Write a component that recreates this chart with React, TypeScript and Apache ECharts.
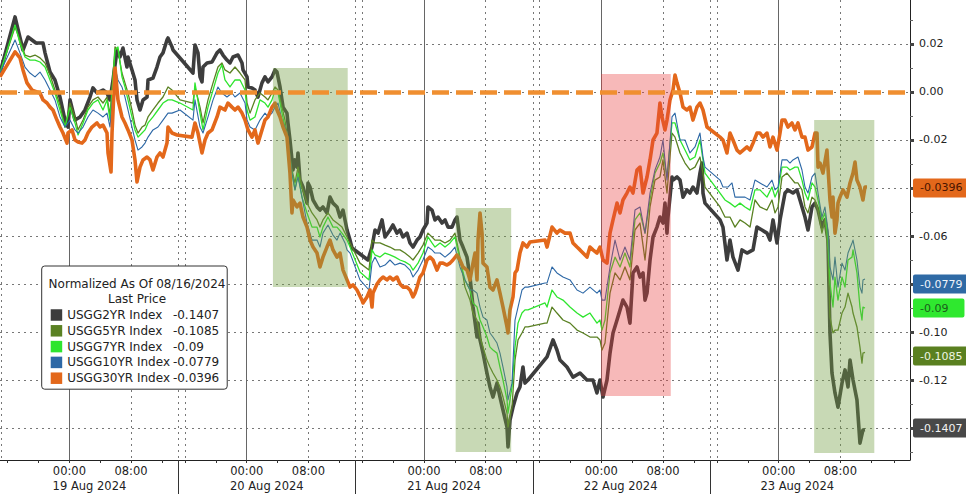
import React, { useEffect, useRef } from "react";
import * as echarts from "echarts";

// Hours of compressed trading-session time (5 sessions of 23h), value = normalized yield change
const seriesNames = ["USGG2YR Index", "USGG5YR Index", "USGG7YR Index", "USGG10YR Index", "USGG30YR Index"];

const us2y = [
  [0, 0.0079], [1.95, 0.0313], [2.98, 0.0175], [3.63, 0.0229], [4.67, 0.0204], [5.58, 0.0204], [5.84, 0.0163], [6.49, 0.0083], [7.13, 0.005], [7.78, -0.0021], [8.43, -0.0117], [8.82, -0.0146], [9.08, -0.0033], [9.73, -0.0117], [10.38, -0.0104], [11.02, -0.0075], [11.67, -0.0021], [12.06, 0.0017], [12.58, -0.0004], [13.36, 0.0008], [13.88, -0.0004], [14.27, -0.0033], [14.66, 0.005], [15.18, 0.0175], [15.56, 0.0146], [15.95, 0.0183], [16.47, 0.0104], [16.6, 0.0146], [17.12, 0.0092], [17.51, 0.005], [17.77, -0.0033], [18.16, -0.0075], [18.55, -0.0033], [19.07, -0.0021], [19.2, 0.005], [19.84, 0.0058], [20.36, 0.0104], [20.75, 0.0146], [21.14, 0.0163], [21.66, 0.0217], [21.79, 0.0225], [22.31, 0.0188], [22.44, 0.0175],
  [25.03, 0.0079], [25.29, 0.0196], [25.68, 0.0163], [25.94, 0.0063], [26.2, 0.0042], [26.33, 0.0104], [26.85, 0.0121], [27.5, 0.0125], [28.15, 0.0163], [28.53, 0.0175], [28.92, 0.0154], [29.44, 0.0133], [29.83, 0.0121], [30.22, 0.0146], [30.87, 0.0154], [31.39, 0.0121], [31.52, 0.0092], [32.04, 0.0063], [32.17, 0.0021], [32.68, 0.0017], [33.07, 0.0008], [33.46, -0.0021], [33.98, 0.0038], [34.37, 0.0063], [34.76, 0.0042], [35.28, 0.0063], [35.67, 0.0092], [35.93, 0.0083], [36.32, 0.0021], [36.71, -0.0063], [37.22, -0.0088], [37.35, -0.0129], [37.61, -0.02], [37.87, -0.0283], [38, -0.0325], [38.26, -0.0283], [38.52, -0.0313], [38.65, -0.0254], [38.91, -0.0367], [39.3, -0.0396], [39.82, -0.0463], [39.95, -0.0379], [40.21, -0.0396], [40.6, -0.045], [41.12, -0.0479], [41.5, -0.0492], [41.89, -0.0479], [42.41, -0.0504], [42.8, -0.0438], [43.19, -0.0463], [43.71, -0.0479], [44.1, -0.0521], [44.49, -0.0492], [45.01, -0.0575], [45.4, -0.0617], [45.66, -0.065],
  [47.73, -0.07], [48.25, -0.0646], [48.64, -0.0575], [49.03, -0.0588], [49.55, -0.0533], [49.94, -0.0604], [50.58, -0.0575], [50.97, -0.0554], [51.49, -0.0588], [51.88, -0.0575], [52.27, -0.0604], [52.79, -0.0588], [53.18, -0.0629], [53.57, -0.0646], [54.09, -0.0617], [54.47, -0.0604], [54.86, -0.0575], [55.38, -0.0546], [55.51, -0.0479], [56.03, -0.0492], [56.42, -0.0533], [56.81, -0.0521], [57.33, -0.0546], [57.72, -0.0533], [58.11, -0.0563], [58.63, -0.0563], [59.01, -0.0533], [59.27, -0.0521], [59.66, -0.0617], [60.05, -0.0646], [60.57, -0.0688], [60.96, -0.0771], [61.35, -0.0896], [61.87, -0.1021], [62, -0.0963], [62.26, -0.1033], [62.65, -0.1088], [63.16, -0.1171], [63.55, -0.1229], [63.94, -0.1271], [64.46, -0.1213], [64.85, -0.1271], [65.24, -0.1325], [65.76, -0.1396], [65.89, -0.1479], [66.15, -0.1367], [66.54, -0.1313], [67.06, -0.1254], [67.44, -0.1229], [67.83, -0.1146], [68.09, -0.1213], [68.48, -0.12],
  [70.95, -0.1104], [71.73, -0.1033], [72.24, -0.1075], [72.63, -0.1117], [73.54, -0.1146], [74.32, -0.1188], [75.23, -0.1171], [76.13, -0.12], [76.91, -0.12], [77.43, -0.1254], [77.82, -0.12], [78.21, -0.1271], [78.73, -0.12], [79.12, -0.1088], [79.51, -0.1004], [80.03, -0.095], [80.42, -0.0908], [80.8, -0.0867], [81.32, -0.0896], [81.71, -0.0963], [82.1, -0.0754], [82.62, -0.0729], [83.01, -0.0771], [83.4, -0.0754], [83.66, -0.0867], [83.92, -0.0838], [84.31, -0.07], [84.7, -0.0604], [85.21, -0.0563], [85.6, -0.0521], [85.99, -0.0546], [86.25, -0.0463], [86.51, -0.0588], [86.64, -0.0521], [87.16, -0.0354], [87.29, -0.0367], [87.81, -0.0354], [88.2, -0.0367], [88.59, -0.0438], [89.1, -0.0408], [89.49, -0.0421], [89.88, -0.0396], [90.4, -0.0421], [90.79, -0.0338], [91.05, -0.0296], [91.18, -0.0421], [91.44, -0.0463],
  [93.39, -0.0533], [93.77, -0.0563], [94.29, -0.07], [94.68, -0.0617], [95.07, -0.0688], [95.72, -0.0742], [96.24, -0.0658], [96.89, -0.0671], [97.67, -0.0658], [98.18, -0.0563], [98.83, -0.0575], [99.48, -0.0588], [99.87, -0.0617], [100.26, -0.0533], [100.78, -0.0629], [101.17, -0.0533], [101.82, -0.0421], [102.2, -0.0408], [102.85, -0.0421], [103.37, -0.0408], [103.76, -0.045], [104.41, -0.0521], [104.8, -0.0575], [105.32, -0.0479], [105.71, -0.0463], [106.1, -0.0492], [106.61, -0.0563], [107, -0.0533], [107.39, -0.0617], [107.65, -0.1004], [107.91, -0.1171], [108.3, -0.1254], [108.69, -0.1313], [109.21, -0.1213], [109.6, -0.1158], [109.99, -0.1229], [110.25, -0.1117], [110.64, -0.12], [111.15, -0.1283], [111.54, -0.1463], [111.93, -0.1408], [112.19, -0.1407],
];

const us5y = [
  [0, 0.0079], [1.95, 0.0271], [2.59, 0.0217], [3.24, 0.0154], [3.89, 0.0146], [4.54, 0.0154], [5.19, 0.0142], [5.84, 0.0121], [6.49, 0.0071], [7.13, 0.0008], [7.78, -0.0054], [8.43, -0.0146], [9.08, -0.0046], [9.73, -0.0104], [10.12, -0.0158], [10.77, -0.0117], [11.41, -0.0063], [12.06, -0.0033], [12.71, -0.0021], [13.36, -0.0046], [13.88, -0.0021], [14.27, -0.0096], [14.92, 0.0188], [15.3, 0.0175], [15.82, 0.0079], [16.21, 0.0038], [16.6, -0.0004], [17.12, -0.0075], [17.51, -0.0138], [17.9, -0.0171], [18.42, -0.0146], [18.81, -0.0138], [19.2, -0.0104], [19.84, -0.0075], [20.49, -0.0046], [21.14, -0.0021], [21.79, 0.0021], [22.31, 0.0008], [23.35, -0.0033],
  [25.03, -0.0046], [25.29, 0.0021], [25.94, -0.0063], [26.33, -0.0129], [26.98, -0.0033], [27.63, 0.0038], [28.27, 0.0104], [28.79, 0.0121], [29.18, 0.0092], [29.83, 0.0079], [30.48, 0.0104], [31.13, 0.0079], [31.78, 0.005], [32.04, -0.0046], [32.43, -0.0088], [33.07, -0.0033], [33.72, -0.0004], [34.37, -0.0021], [34.76, -0.0033], [35.28, -0.0004], [35.67, 0.0021], [36.06, 0.0008], [36.58, -0.0063], [36.96, -0.0117], [37.35, -0.02], [37.87, -0.0325], [38.26, -0.0379], [38.65, -0.0313], [39.17, -0.0396], [39.82, -0.0463], [40.47, -0.0504], [41.12, -0.0533], [41.5, -0.0563], [41.89, -0.0533], [42.54, -0.0504], [43.19, -0.0533], [43.71, -0.0546], [44.36, -0.0563], [45.01, -0.0604], [45.4, -0.0629], [46.69, -0.0713],
  [47.86, -0.0742], [48.25, -0.0617], [48.64, -0.0629], [49.29, -0.0629], [49.94, -0.0638], [50.58, -0.0646], [51.23, -0.0658], [51.88, -0.0658], [52.53, -0.0671], [53.18, -0.0688], [53.57, -0.07], [54.22, -0.0671], [54.86, -0.0638], [55.51, -0.0588], [56.03, -0.0604], [56.42, -0.0617], [57.07, -0.0617], [57.72, -0.0629], [58.37, -0.0617], [59.01, -0.0588], [59.66, -0.0688], [60.31, -0.0813], [60.96, -0.0867], [61.35, -0.0921], [61.87, -0.095], [62.26, -0.1021], [62.65, -0.1063], [63.16, -0.1117], [63.55, -0.1146], [63.94, -0.1171], [64.46, -0.12], [64.85, -0.1229], [65.24, -0.1271], [65.76, -0.1338], [65.89, -0.1396], [66.41, -0.1313], [66.8, -0.1117], [67.19, -0.1033], [67.7, -0.1004], [68.09, -0.0979], [68.48, -0.0979],
  [70.69, -0.0963], [70.95, -0.0963], [71.6, -0.0896], [72.24, -0.0921], [73.02, -0.095], [73.93, -0.0963], [74.84, -0.0992], [75.62, -0.1004], [76.52, -0.1021], [77.43, -0.1021], [77.82, -0.1033], [78.08, -0.1075], [78.47, -0.1046], [79.12, -0.0838], [79.77, -0.0754], [80.42, -0.0783], [81.06, -0.0729], [81.71, -0.0783], [82.36, -0.0575], [83.01, -0.0546], [83.66, -0.07], [84.31, -0.0479], [84.95, -0.0367], [85.6, -0.0354], [85.99, -0.0283], [86.51, -0.0421], [87.16, -0.0171], [87.55, -0.0188], [88.2, -0.0254], [88.85, -0.0296], [89.49, -0.0325], [90.14, -0.0313], [90.79, -0.0271], [91.18, -0.0338], [91.44, -0.0396],
  [93.39, -0.0479], [94.03, -0.0521], [94.68, -0.0521], [95.33, -0.0563], [95.98, -0.0533], [96.63, -0.0546], [97.28, -0.0563], [97.92, -0.045], [98.57, -0.0479], [99.48, -0.0492], [100.13, -0.045], [100.52, -0.0504], [100.91, -0.0479], [101.43, -0.0354], [102.07, -0.0338], [102.46, -0.0354], [103.11, -0.0379], [103.5, -0.0379], [104.02, -0.0408], [104.41, -0.0479], [104.8, -0.0504], [105.32, -0.0438], [105.71, -0.045], [106.1, -0.0492], [106.61, -0.0588], [107, -0.0533], [107.39, -0.0658], [107.65, -0.0938], [108.04, -0.1004], [108.3, -0.0992], [108.69, -0.0992], [109.21, -0.0921], [109.6, -0.0896], [109.99, -0.0838], [110.51, -0.0896], [110.64, -0.0921], [111.15, -0.0979], [111.54, -0.1063], [111.8, -0.113], [111.93, -0.1088], [112.19, -0.1085],
];

const us7y = [
  [0, 0.0079], [1.95, 0.0279], [2.59, 0.0204], [3.24, 0.0146], [3.89, 0.0133], [4.54, 0.0133], [5.19, 0.0125], [5.84, 0.0104], [6.49, 0.005], [7.13, -0.0004], [7.78, -0.0075], [8.43, -0.0146], [9.08, -0.0063], [9.73, -0.0129], [10.12, -0.0179], [10.77, -0.0129], [11.41, -0.0075], [12.06, -0.0046], [12.71, -0.0033], [13.36, -0.0075], [13.88, -0.0033], [14.27, -0.0117], [14.92, 0.0175], [15.3, 0.0188], [15.82, 0.0063], [16.21, 0.0021], [16.6, -0.0033], [17.12, -0.0104], [17.51, -0.0158], [17.9, -0.0188], [18.42, -0.0171], [18.81, -0.0158], [19.2, -0.0129], [19.84, -0.0104], [20.49, -0.0075], [21.14, -0.0046], [21.79, -0.0033], [22.31, -0.0033], [23.35, -0.0046],
  [25.03, -0.0075], [25.29, 0.0038], [25.94, -0.0088], [26.33, -0.0158], [26.98, -0.0063], [27.63, 0.0008], [28.27, 0.0079], [28.79, 0.0113], [29.18, 0.005], [29.83, 0.0021], [30.48, 0.005], [31.13, 0.005], [31.78, 0.0008], [32.04, -0.0075], [32.43, -0.0117], [33.07, -0.0104], [33.72, -0.0033], [34.37, -0.0046], [34.76, -0.0063], [35.28, -0.0033], [35.67, 0.0008], [36.06, -0.0004], [36.58, -0.0088], [36.96, -0.0146], [37.35, -0.0229], [37.87, -0.0338], [38.26, -0.0408], [38.65, -0.0338], [39.17, -0.0438], [39.82, -0.0504], [40.47, -0.0563], [41.12, -0.0563], [41.5, -0.0604], [41.89, -0.0563], [42.54, -0.0521], [43.19, -0.0563], [43.71, -0.0563], [44.36, -0.0588], [45.01, -0.0617], [45.4, -0.0646], [46.69, -0.075],
  [47.86, -0.0783], [48.25, -0.0658], [48.64, -0.0679], [49.29, -0.0688], [49.94, -0.0671], [50.58, -0.0679], [51.23, -0.0688], [51.88, -0.07], [52.53, -0.0708], [53.18, -0.0721], [53.57, -0.0742], [54.22, -0.0713], [54.86, -0.0671], [55.51, -0.0604], [56.03, -0.0629], [56.42, -0.0646], [57.07, -0.0629], [57.72, -0.0646], [58.37, -0.0629], [59.01, -0.0604], [59.66, -0.07], [60.31, -0.0783], [60.96, -0.0825], [61.35, -0.0879], [61.87, -0.0896], [62.26, -0.095], [62.65, -0.0979], [63.16, -0.1021], [63.55, -0.1063], [63.94, -0.1075], [64.46, -0.1088], [64.85, -0.1146], [65.24, -0.12], [65.76, -0.1283], [65.89, -0.1338], [66.41, -0.1229], [66.8, -0.1063], [67.19, -0.0963], [67.7, -0.0921], [68.09, -0.0908], [68.48, -0.0908],
  [70.69, -0.0879], [70.95, -0.0896], [71.6, -0.0825], [72.24, -0.0854], [73.02, -0.0867], [73.93, -0.0896], [74.84, -0.0921], [75.62, -0.0938], [76.52, -0.0921], [77.43, -0.0963], [77.82, -0.095], [78.08, -0.0992], [78.47, -0.095], [79.12, -0.0754], [79.77, -0.0688], [80.42, -0.0729], [81.06, -0.0671], [81.71, -0.0729], [82.36, -0.0533], [83.01, -0.0504], [83.66, -0.0588], [84.31, -0.045], [84.95, -0.0338], [85.6, -0.0296], [85.99, -0.0254], [86.51, -0.0354], [87.16, -0.0129], [87.55, -0.0129], [88.2, -0.02], [88.85, -0.0242], [89.49, -0.0283], [90.14, -0.0271], [90.79, -0.02], [91.18, -0.0283], [91.44, -0.0338],
  [93.39, -0.0421], [94.03, -0.045], [94.68, -0.0463], [95.33, -0.0479], [95.98, -0.0463], [96.63, -0.0479], [97.28, -0.0492], [97.92, -0.0408], [98.57, -0.0408], [99.48, -0.0438], [100.13, -0.0396], [100.52, -0.0438], [100.91, -0.0408], [101.43, -0.0313], [102.07, -0.0313], [102.46, -0.0325], [103.11, -0.0313], [103.5, -0.0313], [104.02, -0.0367], [104.41, -0.0421], [104.8, -0.045], [105.32, -0.0379], [105.71, -0.0396], [106.1, -0.045], [106.61, -0.0533], [107, -0.0504], [107.39, -0.0617], [107.65, -0.0796], [108.04, -0.0896], [108.3, -0.0771], [108.69, -0.0867], [109.21, -0.0771], [109.6, -0.0813], [109.99, -0.07], [110.51, -0.0688], [110.64, -0.0658], [111.15, -0.0754], [111.54, -0.0896], [111.8, -0.095], [111.93, -0.0896], [112.19, -0.09],
];

const us10y = [
  [0, 0.0079], [1.95, 0.0217], [2.59, 0.0163], [3.24, 0.0104], [3.89, 0.0079], [4.54, 0.0063], [5.19, 0.0083], [5.84, 0.005], [6.49, 0.0008], [7.13, -0.0033], [7.78, -0.0104], [8.43, -0.0146], [9.08, -0.0117], [9.73, -0.0158], [10.12, -0.0171], [10.77, -0.0146], [11.41, -0.0104], [12.06, -0.0075], [12.71, -0.0088], [13.36, -0.0104], [13.88, -0.0088], [14.27, -0.0146], [14.92, 0.0104], [15.3, 0.005], [15.82, 0.0021], [16.21, -0.0021], [16.6, -0.0075], [17.12, -0.0146], [17.51, -0.02], [17.9, -0.0242], [18.42, -0.0229], [18.81, -0.0213], [19.2, -0.0188], [19.84, -0.0158], [20.49, -0.0146], [21.14, -0.0117], [21.79, -0.0088], [22.31, -0.0088], [23.35, -0.0075],
  [25.03, -0.0117], [25.29, -0.0033], [25.94, -0.0146], [26.33, -0.0171], [26.98, -0.0104], [27.63, -0.0033], [28.27, 0.0021], [28.79, -0.0004], [29.44, -0.0021], [30.09, -0.0004], [30.48, -0.0021], [31.13, -0.0004], [31.78, -0.0046], [32.04, -0.0117], [32.43, -0.0146], [33.07, -0.0158], [33.72, -0.0117], [34.37, -0.0088], [34.76, -0.0104], [35.28, -0.0088], [35.67, -0.0063], [36.06, -0.0046], [36.58, -0.0117], [36.96, -0.0146], [37.35, -0.02], [37.87, -0.0338], [38.26, -0.0408], [38.65, -0.0354], [39.17, -0.0438], [39.82, -0.0546], [40.47, -0.0617], [41.12, -0.0617], [41.5, -0.0646], [41.89, -0.0588], [42.54, -0.0554], [43.19, -0.0596], [43.71, -0.0617], [44.1, -0.0588], [44.75, -0.0629], [45.01, -0.0658], [45.4, -0.0671], [46.69, -0.0783],
  [47.86, -0.0825], [48.25, -0.0713], [48.64, -0.0688], [49.29, -0.0729], [49.94, -0.0721], [50.58, -0.07], [51.23, -0.0721], [51.88, -0.0713], [52.53, -0.0721], [53.18, -0.0742], [53.57, -0.0771], [54.22, -0.0742], [54.86, -0.07], [55.51, -0.0646], [56.03, -0.0658], [56.42, -0.0671], [57.07, -0.0671], [57.72, -0.0688], [58.37, -0.0671], [59.01, -0.0646], [59.66, -0.0729], [60.31, -0.0783], [60.96, -0.0825], [61.35, -0.0825], [61.87, -0.0838], [62.26, -0.0896], [62.65, -0.0938], [63.16, -0.095], [63.55, -0.1004], [63.94, -0.1021], [64.46, -0.1046], [64.85, -0.1088], [65.24, -0.1146], [65.76, -0.1229], [65.89, -0.1283], [66.41, -0.1213], [66.8, -0.095], [67.19, -0.0896], [67.7, -0.0825], [68.09, -0.0813], [68.48, -0.0813],
  [70.69, -0.0796], [70.95, -0.0796], [71.6, -0.0729], [72.24, -0.0754], [73.02, -0.0771], [73.93, -0.0783], [74.84, -0.0825], [75.62, -0.0838], [76.52, -0.0813], [77.43, -0.0838], [77.82, -0.0825], [78.08, -0.0867], [78.47, -0.0867], [79.12, -0.0729], [79.77, -0.0617], [80.42, -0.07], [81.06, -0.0646], [81.71, -0.07], [82.36, -0.0492], [83.01, -0.0479], [83.66, -0.0588], [84.31, -0.0421], [84.95, -0.0325], [85.6, -0.0271], [85.99, -0.02], [86.51, -0.0367], [87.16, -0.0104], [87.55, -0.0088], [88.2, -0.02], [88.85, -0.02], [89.49, -0.0254], [90.14, -0.0229], [90.79, -0.0171], [91.18, -0.0271], [91.44, -0.0313],
  [93.39, -0.0367], [93.77, -0.0396], [94.42, -0.0396], [94.94, -0.0379], [95.33, -0.0438], [95.98, -0.0438], [96.63, -0.0438], [97.28, -0.045], [97.92, -0.0367], [98.57, -0.0379], [99.48, -0.0396], [100.13, -0.0367], [100.52, -0.0408], [100.91, -0.0396], [101.43, -0.0283], [102.07, -0.0283], [102.46, -0.0296], [102.85, -0.0283], [103.5, -0.0271], [104.02, -0.0325], [104.41, -0.0396], [104.8, -0.0421], [105.32, -0.0354], [105.71, -0.0338], [106.1, -0.0421], [106.61, -0.0521], [107, -0.0479], [107.39, -0.0575], [107.65, -0.0729], [108.04, -0.0783], [108.3, -0.0688], [108.69, -0.0813], [109.21, -0.0713], [109.6, -0.0742], [109.99, -0.0671], [110.51, -0.0629], [110.64, -0.0617], [111.15, -0.07], [111.54, -0.0813], [111.8, -0.0838], [111.93, -0.0783], [112.19, -0.0779],
];

const us30y = [
  [0, 0.0063], [1.95, 0.0167], [2.59, 0.0142], [2.98, 0.0092], [3.5, 0.0038], [4.15, 0.0008], [4.8, 0], [5.19, -0.0004], [5.58, -0.0033], [6.1, -0.0046], [6.49, -0.0063], [6.87, -0.0075], [7.39, -0.0117], [7.78, -0.0146], [8.17, -0.0171], [8.69, -0.0213], [8.82, -0.0171], [9.34, -0.0158], [9.73, -0.02], [10.12, -0.0208], [10.64, -0.0213], [11.02, -0.02], [11.41, -0.0171], [11.93, -0.0146], [12.58, -0.0129], [12.97, -0.0146], [13.36, -0.0138], [13.88, -0.0171], [14.01, -0.0254], [14.4, -0.0333], [14.53, -0.0171], [14.92, 0.01], [15.3, -0.0033], [15.82, -0.0104], [16.21, -0.0129], [16.6, -0.0158], [17.12, -0.02], [17.51, -0.0283], [17.77, -0.0375], [18.16, -0.0313], [18.55, -0.0283], [19.07, -0.0271], [19.46, -0.0283], [19.84, -0.0325], [20.36, -0.0271], [20.75, -0.0254], [21.14, -0.0271], [21.66, -0.0213], [21.79, -0.0146], [22.31, -0.0171], [22.96, -0.0179],
  [24.9, -0.0188], [25.29, -0.0129], [25.68, -0.0171], [26.2, -0.0254], [26.59, -0.02], [26.98, -0.0171], [27.5, -0.0158], [28.15, -0.0104], [28.53, -0.0063], [29.18, -0.0075], [29.57, -0.0046], [30.09, -0.0063], [30.48, -0.0075], [30.87, -0.0063], [31.39, -0.0088], [31.78, -0.0117], [32.17, -0.0158], [32.68, -0.0188], [33.07, -0.0158], [33.46, -0.0213], [33.98, -0.0158], [34.37, -0.0117], [34.76, -0.0104], [35.28, -0.0063], [35.67, -0.0046], [35.93, -0.0075], [36.32, -0.0104], [36.71, -0.0146], [37.22, -0.0188], [37.61, -0.0338], [37.87, -0.0504], [38, -0.045], [38.52, -0.0479], [38.91, -0.0463], [39.3, -0.0521], [39.82, -0.0563], [40.21, -0.0617], [40.6, -0.0646], [41.12, -0.0671], [41.5, -0.0729], [41.89, -0.0688], [42.41, -0.0646], [42.8, -0.0617], [43.19, -0.0658], [43.71, -0.0688], [44.1, -0.0671], [44.49, -0.0742], [45.01, -0.0783], [45.4, -0.0813], [45.78, -0.0804], [46.3, -0.0825], [46.95, -0.0867],
  [47.08, -0.0879], [47.6, -0.0854], [47.99, -0.0825], [48.25, -0.0896], [48.38, -0.0838], [48.9, -0.08], [49.29, -0.0783], [49.68, -0.0771], [50.19, -0.0783], [50.58, -0.0771], [50.97, -0.0783], [51.49, -0.0771], [51.88, -0.08], [52.27, -0.0813], [52.79, -0.0813], [53.18, -0.0825], [53.57, -0.0854], [53.83, -0.0838], [54.09, -0.0813], [54.47, -0.0771], [54.86, -0.0754], [55.38, -0.07], [55.77, -0.0688], [56.16, -0.07], [56.68, -0.0742], [57.07, -0.0713], [57.46, -0.0713], [57.98, -0.0721], [58.37, -0.0713], [58.75, -0.07], [59.27, -0.0679], [59.66, -0.07], [60.05, -0.0729], [60.57, -0.0742], [60.96, -0.0783], [61.35, -0.0713], [61.61, -0.0671], [61.87, -0.0783], [62, -0.0617], [62.26, -0.0504], [62.52, -0.0588], [62.65, -0.0713], [63.16, -0.0729], [63.55, -0.0813], [63.94, -0.0825], [64.46, -0.0783], [64.85, -0.0838], [65.24, -0.0896], [65.76, -0.0979], [65.89, -0.1004], [66.15, -0.0908], [66.54, -0.0854], [66.8, -0.0754], [67.06, -0.0742], [67.44, -0.0671], [67.83, -0.0629], [68.35, -0.0646], [68.74, -0.0625],
  [70.69, -0.0617], [70.95, -0.0646], [71.6, -0.0563], [72.24, -0.0588], [72.63, -0.0575], [73.28, -0.0588], [73.93, -0.0588], [74.32, -0.0629], [74.84, -0.0646], [75.23, -0.0658], [75.62, -0.0671], [76.13, -0.0688], [76.52, -0.0646], [76.91, -0.0658], [77.43, -0.0671], [77.82, -0.0646], [78.21, -0.07], [78.73, -0.0713], [79.12, -0.0588], [79.51, -0.0533], [80.03, -0.0463], [80.42, -0.0504], [80.8, -0.045], [81.32, -0.0421], [81.71, -0.0396], [82.1, -0.0421], [82.62, -0.0325], [83.01, -0.0313], [83.4, -0.0421], [83.92, -0.0354], [84.31, -0.0283], [84.7, -0.02], [85.21, -0.0171], [85.6, -0.0046], [85.86, -0.0104], [86.25, -0.0158], [86.51, -0.0117], [86.9, -0.0033], [87.29, 0.0008], [87.55, 0.0071], [87.81, 0.0038], [88.2, -0.0004], [88.59, -0.0063], [89.1, -0.0075], [89.49, -0.0063], [89.88, -0.0117], [90.4, -0.0063], [90.79, -0.0046], [91.18, -0.0075], [91.7, -0.0146],
  [93.39, -0.0188], [93.77, -0.02], [94.29, -0.0254], [94.68, -0.0171], [95.07, -0.02], [95.59, -0.0242], [95.98, -0.0254], [96.89, -0.0229], [97.28, -0.0242], [97.67, -0.0213], [98.18, -0.0171], [98.57, -0.0171], [98.96, -0.0188], [99.48, -0.0171], [99.87, -0.0229], [100.26, -0.0188], [100.78, -0.0242], [101.17, -0.0171], [101.43, -0.0117], [101.82, -0.0117], [102.2, -0.0146], [102.72, -0.0129], [103.11, -0.0158], [103.5, -0.0129], [104.02, -0.0188], [104.41, -0.0188], [104.8, -0.0242], [105.32, -0.0229], [105.71, -0.0171], [105.97, -0.0171], [106.1, -0.0313], [106.36, -0.0296], [106.74, -0.0338], [107.26, -0.0242], [107.39, -0.0313], [107.65, -0.045], [107.91, -0.0521], [108.04, -0.0438], [108.3, -0.0588], [108.56, -0.0533], [108.69, -0.0463], [108.95, -0.0438], [109.34, -0.0408], [109.86, -0.0438], [110.25, -0.0379], [110.64, -0.0338], [110.9, -0.0292], [111.15, -0.0367], [111.54, -0.0396], [111.93, -0.045], [112.19, -0.0396], [112.45, -0.0396],
];

const allSeries = [us2y, us5y, us7y, us10y, us30y];
const lineColors = ["#3d3d3d", "#5a8123", "#2ee52e", "#2d68a6", "#e3681b"];
const lineWidths = [3.6, 1.3, 1.3, 1.1, 3.6];
const tagBg = ["#484848", "#5a8020", "#2fe82f", "#2f6aa5", "#e3681b"];
const tagText = ["#f2f2f2", "#eef5e0", "#1b5e1b", "#eef3fa", "#4a1500"];

// Axis definitions
const xMax = 118.03;
const yMin = -0.15333;
const yMax = 0.03833;
const yTicks = [0.02, 0, -0.02, -0.04, -0.06, -0.08, -0.1, -0.12, -0.14];
// labels hidden behind the last-price tags in the reference are left out
const yLabelTicks = [0.02, 0, -0.02, -0.06, -0.1, -0.12];
const yMinorTicks = [0.03, 0.01, -0.01, -0.03, -0.05, -0.07, -0.09, -0.11, -0.13, -0.15];
const timeLabelHours = [9, 17, 32, 40, 55, 63, 78, 86, 101, 109];
const timeLabels = ["00:00", "08:00", "00:00", "08:00", "00:00", "08:00", "00:00", "08:00", "00:00", "08:00"];
const dateLabelHours = [11.6, 34.6, 57.6, 80.5, 103.4];
const dateLabels = ["19 Aug 2024", "20 Aug 2024", "21 Aug 2024", "22 Aug 2024", "23 Aug 2024"];
const timeTickHours = [1, 5, 9, 13, 17, 21, 24, 28, 32, 36, 40, 44, 47, 51, 55, 59, 63, 67, 70, 74, 78, 82, 86, 90, 93, 97, 101, 105, 109, 113, 116];
const sessionBreaks = [23.1, 46.1, 69.1, 92.1];
const midnightLines = [9, 32, 55, 78, 101];
const dottedLines = [0.2, 17, 23.1, 24, 40, 46.1, 47, 63, 69.1, 70, 86, 92.1, 93, 109];

// Highlighted windows
const shadeStart = [35.4, 59.1, 77.95, 105.6];
const shadeEnd = [45.1, 66.3, 87.0, 113.4];
const shadeTop = [0.01, -0.0483, 0.0075, -0.0117];
const shadeBottom = [-0.0813, -0.15, -0.1267, -0.1504];
const shadeKind = ["green", "green", "red", "green"];

const FONT = "DejaVu Sans";

function lookup(hours: number[], labels: string[], v: number) {
  for (let i = 0; i < hours.length; i++) if (Math.abs(hours[i] - v) < 0.01) return labels[i];
  return "";
}

export default function App() {
  const ref = useRef<HTMLDivElement>(null);

  useEffect(() => {
    if (!ref.current) return;
    const chart = echarts.init(ref.current, undefined, { renderer: "svg" });

    const lastValues = allSeries.map((s) => s[s.length - 1][1]);

    const markAreaData = shadeStart.map((s, i) => [
      {
        xAxis: s,
        yAxis: shadeTop[i],
        itemStyle: { color: shadeKind[i] === "red" ? "rgba(232,62,62,0.36)" : "rgba(118,160,70,0.40)" },
      },
      { xAxis: shadeEnd[i], yAxis: shadeBottom[i] },
    ]);

    const series: any[] = allSeries.map((data, i) => {
      const markLineData: any[] = [
        {
          yAxis: lastValues[i],
          lineStyle: { color: "rgba(0,0,0,0)", width: 0 },
          label: {
            show: true,
            position: "end",
            distance: 3,
            formatter: () => String(lastValues[i]),
            backgroundColor: tagBg[i],
            color: tagText[i],
            padding: [4, 16, 4, 7],
            borderRadius: 2,
            fontSize: 11,
            fontFamily: FONT,
          },
        },
      ];
      if (i === 0) {
        markLineData.unshift({
          yAxis: 0,
          lineStyle: { color: "#f08f30", width: 4.5, type: [17, 7] },
          label: { show: false },
        });
      }
      const s: any = {
        name: seriesNames[i],
        type: "line",
        data,
        color: lineColors[i],
        showSymbol: false,
        symbol: "none",
        silent: true,
        z: 2,
        lineStyle: { width: lineWidths[i], color: lineColors[i], join: "round" },
        markLine: {
          silent: true,
          symbol: ["none", "none"],
          z: 6,
          data: markLineData,
        },
      };
      if (i === 0) {
        s.markArea = { silent: true, z: 3, data: markAreaData };
      }
      return s;
    });

    const hiddenX = (extra: any) => ({
      type: "value",
      min: 0,
      max: xMax,
      gridIndex: 0,
      position: "bottom",
      axisLine: { show: false, onZero: false },
      axisLabel: { show: false },
      axisTick: { show: false },
      splitLine: { show: false },
      ...extra,
    });

    const option: any = {
      animation: false,
      backgroundColor: "#ffffff",
      textStyle: { fontFamily: FONT },
      grid: { left: 0, top: 0, right: 56, bottom: 34, containLabel: false },
      xAxis: [
        {
          type: "value",
          min: 0,
          max: xMax,
          position: "bottom",
          axisLine: { show: true, onZero: false, lineStyle: { color: "#222", width: 1 } },
          axisTick: { show: true, customValues: timeTickHours, length: 3, lineStyle: { color: "#333" } },
          axisLabel: {
            show: true,
            customValues: timeLabelHours,
            formatter: (v: number) => lookup(timeLabelHours, timeLabels, v),
            margin: 5,
            fontSize: 11.5,
            color: "#222",
            fontFamily: FONT,
          },
          splitLine: { show: false },
        },
        hiddenX({
          axisTick: { show: false, customValues: dateLabelHours },
          axisLabel: {
            show: true,
            customValues: dateLabelHours,
            formatter: (v: number) => lookup(dateLabelHours, dateLabels, v),
            margin: 20,
            fontSize: 11.5,
            color: "#222",
            fontFamily: FONT,
          },
        }),
        hiddenX({
          axisTick: { show: true, customValues: sessionBreaks, length: 34, lineStyle: { color: "#333", width: 1 } },
        }),
        hiddenX({
          axisTick: { show: false, customValues: midnightLines },
          splitLine: { show: true, lineStyle: { color: "#666", width: 1, type: "solid" } },
        }),
        hiddenX({
          axisTick: { show: false, customValues: dottedLines },
          splitLine: { show: true, lineStyle: { color: "#777", width: 1, type: [2, 4] } },
        }),
      ],
      yAxis: [
        {
          type: "value",
          position: "right",
          min: yMin,
          max: yMax,
          axisLine: { show: true, onZero: false, lineStyle: { color: "#222", width: 1 } },
          axisTick: { show: true, inside: false, customValues: yTicks, length: 4, lineStyle: { color: "#444", width: 3 } },
          axisLabel: { show: false },
          splitLine: { show: true, lineStyle: { color: "#777", width: 1, type: [2, 4] } },
        },
        {
          type: "value",
          position: "right",
          min: yMin,
          max: yMax,
          axisLine: { show: false, onZero: false },
          axisTick: { show: true, inside: false, customValues: yMinorTicks, length: 3, lineStyle: { color: "#666", width: 1 } },
          axisLabel: { show: false },
          splitLine: { show: false },
        },
        {
          type: "value",
          position: "right",
          min: yMin,
          max: yMax,
          axisLine: { show: false, onZero: false },
          axisTick: { show: false, customValues: yLabelTicks },
          axisLabel: {
            show: true,
            customValues: yLabelTicks,
            formatter: (v: number) => v.toFixed(2),
            margin: 9,
            fontSize: 11,
            color: "#222",
            fontFamily: FONT,
          },
          splitLine: { show: false },
        },
      ],
      legend: {
        orient: "vertical",
        left: 41.7,
        top: 266,
        padding: [43, 8, 5, 9],
        itemWidth: 11.5,
        itemHeight: 11.5,
        itemGap: 3.8,
        icon: "rect",
        selectedMode: false,
        backgroundColor: "#ffffff",
        borderColor: "#333",
        borderWidth: 1,
        borderRadius: 3,
        z: 20,
        data: seriesNames,
        formatter: (name: string) => {
          const i = seriesNames.indexOf(name);
          return `{n|${name}}{v|${lastValues[i]}}`;
        },
        textStyle: {
          fontFamily: FONT,
          fontSize: 12,
          color: "#222",
          rich: {
            n: { width: 105.7, fontSize: 12, fontFamily: FONT, color: "#222" },
            v: { width: 52, fontSize: 12, fontFamily: FONT, color: "#222" },
          },
        },
      },
      graphic: [
        {
          type: "text",
          x: 137,
          y: 284,
          z: 100,
          style: {
            text: "Normalized As Of 08/16/2024",
            fill: "#222",
            font: `12px "${FONT}"`,
            align: "center",
            verticalAlign: "middle",
            textAlign: "center",
            textVerticalAlign: "middle",
          },
        },
        {
          type: "text",
          x: 137,
          y: 299,
          z: 100,
          style: {
            text: "Last Price",
            fill: "#222",
            font: `12px "${FONT}"`,
            align: "center",
            verticalAlign: "middle",
            textAlign: "center",
            textVerticalAlign: "middle",
          },
        },
      ],
      series,
    };

    chart.setOption(option);
    return () => chart.dispose();
  }, []);

  return (
    <div
      ref={ref}
      style={{ position: "absolute", left: 0, top: 0, width: 966, height: 494, background: "#fff" }}
    />
  );
}
